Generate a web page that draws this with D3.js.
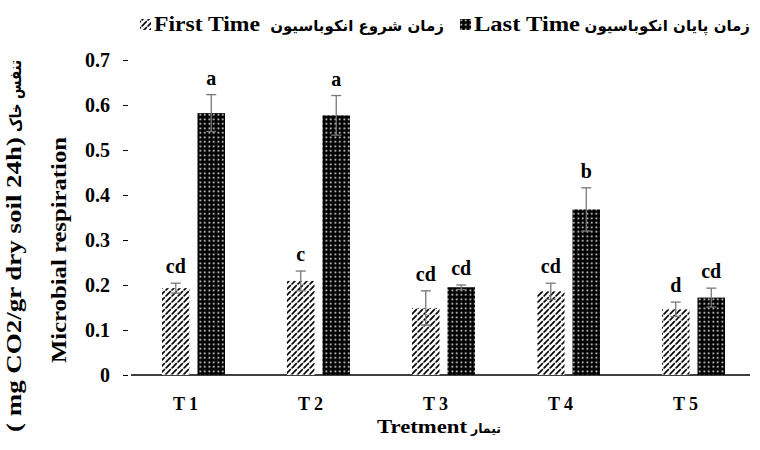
<!DOCTYPE html>
<html>
<head>
<meta charset="utf-8">
<script src="https://cdn.jsdelivr.net/npm/d3@7"></script>
<style>
  body { margin: 0; background: #fff; }
  svg text { font-family: "Liberation Serif", "Times New Roman", serif; font-weight: bold; fill: #000; }
  svg text.fa { font-family: "DejaVu Sans", sans-serif; font-weight: bold; }
</style>
</head>
<body>
<div id="chart"></div>
<script>
// values
var categories = ["T1", "T2", "T3", "T4", "T5"];
var seriesNames = ["First Time", "Last Time"];
var seriesFa = ["زمان شروع انکوباسیون", "زمان پایان انکوباسیون"];
var firstTime = [0.193, 0.209, 0.149, 0.186, 0.146];
var lastTime = [0.582, 0.577, 0.195, 0.368, 0.172];
var firstErr = [0.011, 0.022, 0.038, 0.018, 0.016];
var lastErr = [0.041, 0.044, 0.005, 0.048, 0.021];
var firstLetters = ["cd", "c", "cd", "cd", "d"];
var lastLetters = ["a", "a", "cd", "b", "cd"];
var yTicks = [0, 0.1, 0.2, 0.3, 0.4, 0.5, 0.6, 0.7];

var width = 760, height = 450;

var svg = d3.select("#chart").append("svg")
    .attr("width", width)
    .attr("height", height);

// fill patterns
var defs = svg.append("defs");
var hatch = defs.append("pattern")
    .attr("id", "hatch")
    .attr("patternUnits", "userSpaceOnUse")
    .attr("width", 6).attr("height", 6);
hatch.append("rect").attr("width", 6).attr("height", 6).attr("fill", "#fff");
hatch.append("path")
    .attr("d", "M0,6 L6,0 M-1.5,1.5 L1.5,-1.5 M4.5,7.5 L7.5,4.5")
    .attr("stroke", "#000").attr("stroke-width", 1.6)
    .attr("stroke-dasharray", "4,1");

var dots = defs.append("pattern")
    .attr("id", "dots")
    .attr("patternUnits", "userSpaceOnUse")
    .attr("width", 4.5).attr("height", 4.5);
dots.append("rect").attr("width", 4.5).attr("height", 4.5).attr("fill", "#000");
dots.append("rect").attr("x", 1.5).attr("y", 1.5).attr("width", 1.6).attr("height", 1.6).attr("fill", "#fff");

var fills = ["url(#hatch)", "url(#dots)"];

var x0 = d3.scaleBand()
    .domain(categories)
    .range([131, 756])
    .paddingInner(0.496)
    .paddingOuter(0.248);

var x1 = d3.scaleBand()
    .domain(seriesNames)
    .range([0, x0.bandwidth()])
    .paddingInner(0.225);

var y = d3.scaleLinear()
    .domain([0, 0.7])
    .range([375, 60]);

// y axis: ticks only, no spine
var yAxis = svg.append("g")
    .attr("transform", "translate(128,0)")
    .call(d3.axisLeft(y).tickValues(yTicks).tickSize(5).tickPadding(13)
        .tickFormat(function(d) { return d === 0 ? "0" : d3.format(".1f")(d); }));
yAxis.select(".domain").remove();
yAxis.selectAll("line").attr("stroke", "#000");
yAxis.selectAll("text")
    .attr("font-size", 20)
    .attr("font-family", "Liberation Serif")
    .attr("font-weight", "bold")
    .attr("fill", "#000");

// baseline
svg.append("line")
    .attr("x1", 131).attr("x2", 750)
    .attr("y1", y(0)).attr("y2", y(0))
    .attr("stroke", "#000").attr("stroke-width", 1.3);

// bars
var rows = categories.map(function(c, i) {
    return [
        { cat: c, s: 0, v: firstTime[i], e: firstErr[i], l: firstLetters[i] },
        { cat: c, s: 1, v: lastTime[i], e: lastErr[i], l: lastLetters[i] }
    ];
});
var flat = [].concat.apply([], rows);

var g = svg.append("g");
g.selectAll("rect.bar")
    .data(flat)
    .enter().append("rect")
    .attr("class", "bar")
    .attr("x", function(d) { return x0(d.cat) + x1(seriesNames[d.s]); })
    .attr("y", function(d) { return y(d.v); })
    .attr("width", x1.bandwidth())
    .attr("height", function(d) { return y(0) - y(d.v); })
    .attr("fill", function(d) { return fills[d.s]; });

// error bars
var cx = function(d) { return x0(d.cat) + x1(seriesNames[d.s]) + x1.bandwidth() / 2; };
var eb = g.selectAll("g.err")
    .data(flat)
    .enter().append("g")
    .attr("class", "err")
    .attr("stroke", "#777")
    .attr("stroke-width", 1.3);
eb.append("line")
    .attr("x1", cx).attr("x2", cx)
    .attr("y1", function(d) { return y(d.v + d.e); })
    .attr("y2", function(d) { return y(d.v - d.e); });
eb.append("line")
    .attr("x1", function(d) { return cx(d) - 5; }).attr("x2", function(d) { return cx(d) + 5; })
    .attr("y1", function(d) { return y(d.v + d.e); })
    .attr("y2", function(d) { return y(d.v + d.e); });
eb.append("line")
    .attr("x1", function(d) { return cx(d) - 5; }).attr("x2", function(d) { return cx(d) + 5; })
    .attr("y1", function(d) { return y(d.v - d.e); })
    .attr("y2", function(d) { return y(d.v - d.e); });

// significance letters
g.selectAll("text.letter")
    .data(flat)
    .enter().append("text")
    .attr("class", "letter")
    .attr("x", cx)
    .attr("y", function(d) { return y(d.v + d.e) - 10; })
    .attr("text-anchor", "middle")
    .attr("font-size", 20)
    .text(function(d) { return d.l; });

// x tick labels
svg.selectAll("text.xt")
    .data(categories)
    .enter().append("text")
    .attr("class", "xt")
    .attr("x", function(d) { return x0(d) + x0.bandwidth() / 2 - 6; })
    .attr("y", 410)
    .attr("text-anchor", "middle")
    .attr("font-size", 18)
    .attr("letter-spacing", 4)
    .text(function(d) { return d; });

// x title
svg.append("text")
    .attr("x", 377).attr("y", 433)
    .attr("font-size", 19)
    .attr("textLength", 90)
    .attr("lengthAdjust", "spacingAndGlyphs")
    .text("Tretment");
svg.append("text")
    .attr("class", "fa")
    .attr("x", 471).attr("y", 433)
    .attr("font-size", 13)
    .attr("textLength", 30)
    .attr("lengthAdjust", "spacingAndGlyphs")
    .text("تیمار");

// y titles
svg.append("text")
    .attr("transform", "translate(66,250) rotate(-90)")
    .attr("text-anchor", "middle")
    .attr("font-size", 20)
    .attr("textLength", 226)
    .attr("lengthAdjust", "spacingAndGlyphs")
    .text("Microbial respiration");
svg.append("text")
    .attr("transform", "translate(21,432) rotate(-90)")
    .attr("font-size", 20)
    .attr("textLength", 295)
    .attr("lengthAdjust", "spacingAndGlyphs")
    .text("( mg CO2/gr dry soil 24h)");
svg.append("text")
    .attr("class", "fa")
    .attr("transform", "translate(21,132) rotate(-90)")
    .attr("font-size", 16)
    .attr("textLength", 72)
    .attr("lengthAdjust", "spacingAndGlyphs")
    .text("تنفس خاک");

// legend
var legendX = [140, 460];
var legendFaX = [357, 750];
var legendFaAnchor = ["middle", "end"];
var leg = svg.selectAll("g.leg")
    .data(seriesNames)
    .enter().append("g")
    .attr("class", "leg");
leg.append("rect")
    .attr("x", function(d, i) { return legendX[i]; })
    .attr("y", 19)
    .attr("width", 11).attr("height", 11)
    .attr("fill", function(d, i) { return fills[i]; });
leg.append("text")
    .attr("x", function(d, i) { return legendX[i] + 14; })
    .attr("y", 31)
    .attr("font-size", 22)
    .attr("textLength", 106)
    .attr("lengthAdjust", "spacingAndGlyphs")
    .text(function(d) { return d; });
leg.append("text")
    .attr("class", "fa")
    .attr("x", function(d, i) { return legendFaX[i]; })
    .attr("y", 31)
    .attr("font-size", 15)
    .attr("text-anchor", function(d, i) { return legendFaAnchor[i]; })
    .text(function(d, i) { return seriesFa[i]; });
</script>
</body>
</html>
